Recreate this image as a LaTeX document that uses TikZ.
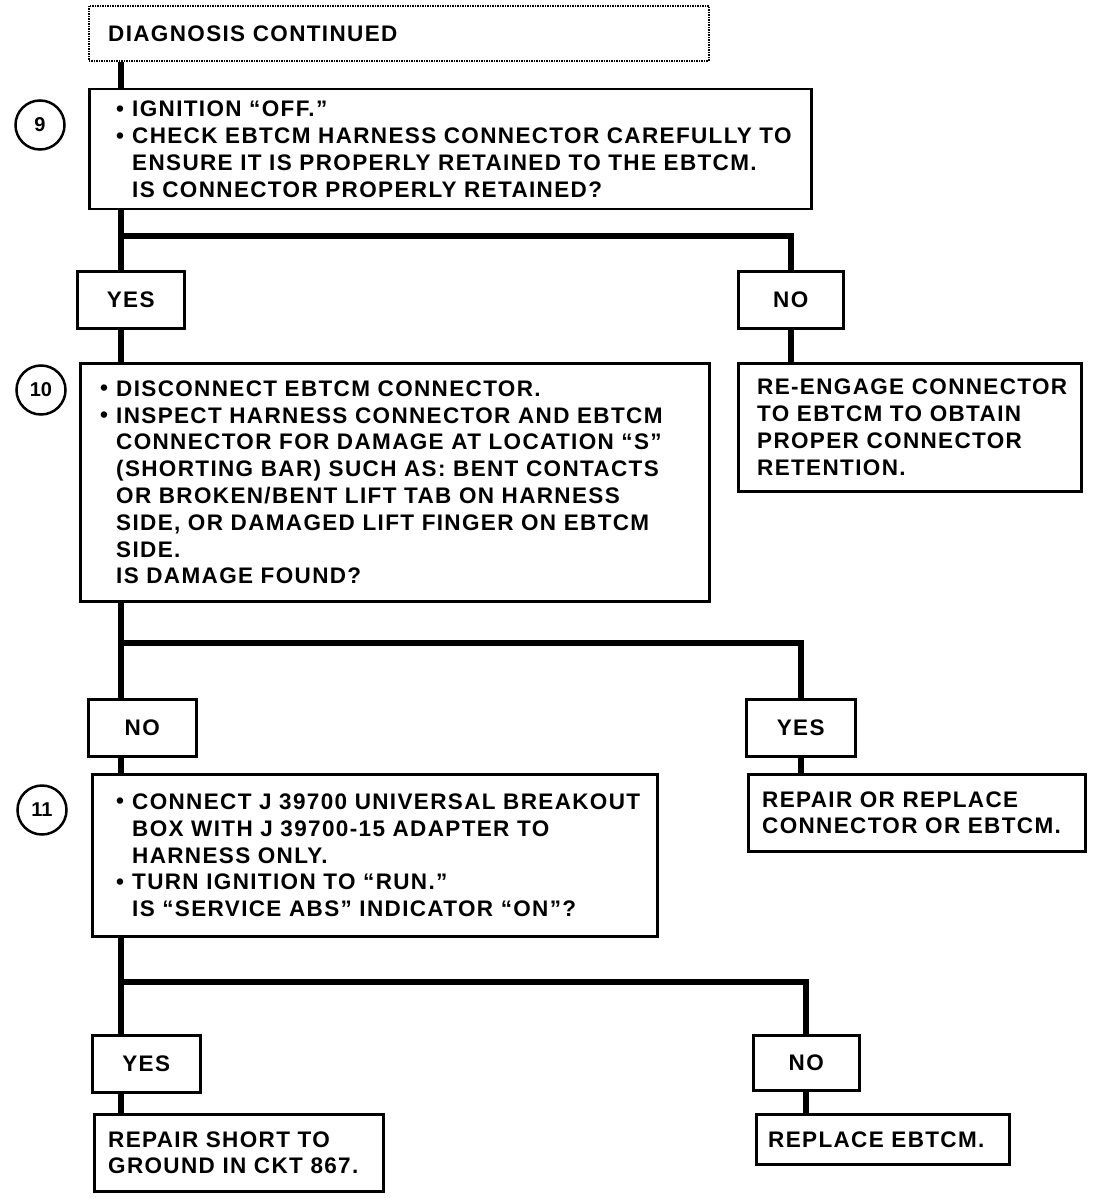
\documentclass[tikz,border=0pt]{standalone}
\usepackage{fontspec}
\usepackage{graphicx}
\setmainfont{Liberation Sans}[LetterSpace=6]
\newcommand{\bu}{\makebox[16pt][l]{\raisebox{0.5pt}{•}}}
\newcommand{\ind}{\hspace*{16pt}}
\begin{document}
\begin{tikzpicture}[x=1pt, y=-1pt,
  box/.style={draw, line width=2.5pt, anchor=north west, inner sep=0pt},
  lbl/.style={box, font=\fontsize{22.5}{26.8}\selectfont\bfseries},
  txt/.style={anchor=west, align=left, inner sep=0pt, font=\fontsize{22.5}{26.8}\selectfont\bfseries},
  conn/.style={line width=6pt},
  num/.style={circle, draw, line width=2.5pt, minimum size=49pt, inner sep=0pt, font=\fontsize{20}{24}\selectfont\bfseries\addfontfeature{LetterSpace=0}}]
\useasboundingbox (0,0) rectangle (1104,1198);
% trunk coordinates
\coordinate (t) at (121,0);
\coordinate (j1) at (121,236);
\coordinate (j2) at (121,643);
\coordinate (j3) at (121,982);
% boxes
\node[box, line width=1.6pt, dash pattern=on 1.5pt off 1pt, minimum width=620pt, minimum height=55pt] (dc) at (88,5) {};
\node[txt] (dct) at ([xshift=20pt]dc.west) {DIAGNOSIS CONTINUED};

\node[box, minimum width=722pt, minimum height=120pt] (b9) at (88,88) {};
\node[txt] (b9t) at ([xshift=28pt]b9.west) {\bu IGNITION “OFF.”\\
\bu CHECK EBTCM HARNESS CONNECTOR CAREFULLY TO\\
\ind ENSURE IT IS PROPERLY RETAINED TO THE EBTCM.\\
\ind IS CONNECTOR PROPERLY RETAINED?};
\node[num] (n9) at (40,125) {9};

\node[lbl, minimum width=107pt, minimum height=57pt] (yes1) at (76,270) {YES};
\node[lbl, minimum width=105pt, minimum height=57pt] (no1) at (737,270) {NO};

\node[box, minimum width=629pt, minimum height=238pt] (b10) at (79,362) {};
\node[txt] (b10t) at ([xshift=21pt]b10.west) {\bu DISCONNECT EBTCM CONNECTOR.\\
\bu INSPECT HARNESS CONNECTOR AND EBTCM\\
\ind CONNECTOR FOR DAMAGE AT LOCATION “S”\\
\ind (SHORTING BAR) SUCH AS: BENT CONTACTS\\
\ind OR BROKEN/BENT LIFT TAB ON HARNESS\\
\ind SIDE, OR DAMAGED LIFT FINGER ON EBTCM\\
\ind SIDE.\\
\ind IS DAMAGE FOUND?};
\node[num] (n10) at (41,390) {10};

\node[box, minimum width=343pt, minimum height=128pt] (re) at (737,362) {};
\node[txt] (ret) at ([xshift=20pt]re.west) {RE-ENGAGE CONNECTOR\\TO EBTCM TO OBTAIN\\PROPER CONNECTOR\\RETENTION.};

\node[lbl, minimum width=108pt, minimum height=57pt] (no2) at (87,698) {NO};
\node[lbl, minimum width=109pt, minimum height=57pt] (yes2) at (745,698) {YES};

\node[box, minimum width=565pt, minimum height=162pt] (b11) at (91,773) {};
\node[txt] (b11t) at ([xshift=25pt]b11.west) {\bu CONNECT J 39700 UNIVERSAL BREAKOUT\\
\ind BOX WITH J 39700-15 ADAPTER TO\\
\ind HARNESS ONLY.\\
\bu TURN IGNITION TO “RUN.”\\
\ind IS “SERVICE ABS” INDICATOR “ON”?};
\node[num] (n11) at (42,810) {11};

\node[box, minimum width=337pt, minimum height=77pt] (rr) at (747,773) {};
\node[txt] (rrt) at ([xshift=15pt]rr.west) {REPAIR OR REPLACE\\CONNECTOR OR EBTCM.};

\node[lbl, minimum width=108pt, minimum height=57pt] (yes3) at (91,1034) {YES};
\node[lbl, minimum width=106pt, minimum height=55pt] (no3) at (752,1034) {NO};

\node[box, minimum width=289pt, minimum height=77pt] (rs) at (93,1113) {};
\node[txt] (rst) at ([xshift=15pt]rs.west) {REPAIR SHORT TO\\GROUND IN CKT 867.};

\node[box, minimum width=253pt, minimum height=50pt] (reb) at (755,1113) {};
\node[txt] (rebt) at ([xshift=13pt]reb.west) {REPLACE EBTCM.};

% connectors
\draw[conn] (dc.south -| t) -- (b9.north -| t);
\draw[conn] (b9.south -| j1) -- (j1) -| (no1.north);
\draw[conn] (j1) -- (yes1.north -| j1);
\draw[conn] (yes1.south -| t) -- (b10.north -| t);
\draw[conn] (no1.south) -- (re.north -| no1.south);

\draw[conn] (b10.south -| j2) -- (j2) -| (yes2.north);
\draw[conn] (j2) -- (no2.north -| j2);
\draw[conn] (no2.south -| t) -- (b11.north -| t);
\draw[conn] (yes2.south) -- (rr.north -| yes2.south);

\draw[conn] (b11.south -| j3) -- (j3) -| (no3.north);
\draw[conn] (j3) -- (yes3.north -| j3);
\draw[conn] (yes3.south -| t) -- (rs.north -| t);
\draw[conn] (no3.south) -- (reb.north -| no3.south);
\end{tikzpicture}
\end{document}
